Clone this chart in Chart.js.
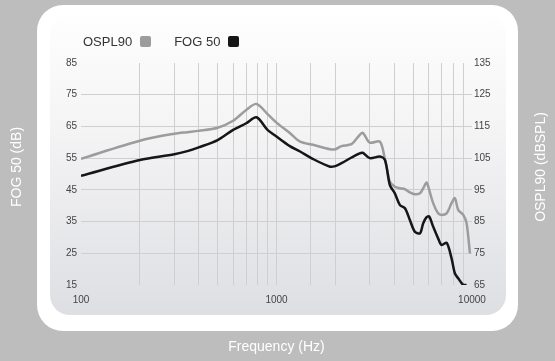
<!DOCTYPE html>
<html>
<head>
<meta charset="utf-8">
<script src="https://cdn.jsdelivr.net/npm/chart.js@4.4.1/dist/chart.umd.min.js"></script>
<style>
  body { margin: 0; background: #bdbdbd; font-family: Arial, "Liberation Sans", sans-serif; }
  #wrap { position: relative; width: 555px; height: 361px; overflow: hidden; }
  #card { position: absolute; left: 37px; top: 5px; width: 481px; height: 326px; background: #fff; border-radius: 26px; }
  #panel { position: absolute; left: 50px; top: 15px; width: 456px; height: 300px; border-radius: 20px;
           background: linear-gradient(#fefefe, #f5f5f6 35%, #dedfe3); }
  #fogChart { position: absolute; left: 0; top: 0; }
  #legend { position: absolute; left: 83px; top: 34px; font-size: 13px; line-height: 16px; color: #333; white-space: nowrap; }
  #legend span.item { display: inline-block; margin-right: 23px; }
  #legend span.box { display: inline-block; width: 11px; height: 11px; border-radius: 2px; margin-left: 8px; vertical-align: -1px; }
</style>
</head>
<body>
<div id="wrap">
  <div id="card"></div>
  <div id="panel"></div>
  <canvas id="fogChart" width="555" height="361"></canvas>
  <div id="legend"></div>
</div>
<script>
// Frequencies (Hz).
const frequencies = [100, 200, 300, 350, 400, 500, 600, 700, 790, 900, 1000, 1170, 1320, 1540, 1880, 2000,
  2150, 2420, 2620, 2760, 3000, 3380, 3590, 3800, 4030, 4280, 4540, 4810, 5100, 5420, 5630, 5860, 6040,
  6330, 6710, 6990, 7420, 7860, 8170, 8500, 9020, 9380, 9760];

// OSPL90 in dB SPL (right axis).
const osplValues = [104.8, 110.5, 112.7, 113.2, 113.6, 114.6, 116.8, 120.2, 122.1, 118.9, 116.2, 112.9, 110.2,
  109.2, 107.8, 107.8, 108.8, 109.4, 111.8, 113.0, 109.9, 110.2, 104.5, 97.6, 96.0, 95.5, 95.2, 94.2, 93.6,
  93.9, 95.5, 97.3, 95.0, 90.8, 87.6, 87.1, 87.6, 90.8, 92.4, 88.7, 87.1, 84.5, 75.0];

// FOG 50 in dB (left axis).
const fogValues = [49.4, 54.4, 56.2, 57.2, 58.4, 60.7, 63.9, 66.0, 67.9, 63.9, 61.8, 58.8, 57.1, 54.7, 52.3,
  52.5, 53.4, 55.2, 56.3, 56.7, 55.0, 55.5, 54.4, 46.5, 43.9, 40.2, 39.2, 35.5, 31.8, 31.3, 34.5, 36.4, 36.6,
  33.4, 29.7, 27.6, 28.3, 23.4, 18.7, 17.1, 15.0, 15.0, null];

const xTickLabels = [100, 1000, 10000];
const seriesNames = ['OSPL90', 'FOG 50'];
const seriesColours = ['#9c9c9c', '#161616'];

const xTitle = 'Frequency (Hz)';
const leftTitle = 'FOG 50 (dB)';
const rightTitle = 'OSPL90 (dBSPL)';

const gridColour = '#cfcfcf';
const tickFont = { family: 'Arial', size: 10 };

function toPoints(values) {
  let pts = [];
  for (let i = 0; i < frequencies.length; i++) {
    if (values[i] !== null) pts.push({ x: frequencies[i], y: values[i] });
  }
  return pts;
}

// Rotated side titles, both reading bottom to top.
const sideTitles = {
  id: 'sideTitles',
  afterDraw(chart) {
    const ctx = chart.ctx;
    ctx.save();
    ctx.fillStyle = '#ffffff';
    ctx.font = '14px Arial';
    ctx.textAlign = 'center';
    ctx.textBaseline = 'middle';
    [[17, 167, leftTitle], [541.5, 167, rightTitle]].forEach(function (t) {
      ctx.save();
      ctx.translate(t[0], t[1]);
      ctx.rotate(-Math.PI / 2);
      ctx.fillText(t[2], 0, 0);
      ctx.restore();
    });
    ctx.restore();
  }
};

let config = {
  type: 'line',
  data: {
    datasets: [{
      label: seriesNames[0],
      data: toPoints(osplValues),
      yAxisID: 'y1',
      borderColor: seriesColours[0],
      borderWidth: 2.5,
      pointRadius: 0,
      tension: 0.3,
      order: 1
    }, {
      label: seriesNames[1],
      data: toPoints(fogValues),
      yAxisID: 'y',
      borderColor: seriesColours[1],
      borderWidth: 2.5,
      pointRadius: 0,
      tension: 0.3,
      order: 0
    }]
  },
  options: {
    responsive: false,
    animation: false,
    devicePixelRatio: 1,
    layout: { padding: { top: 63, left: 0, right: 0, bottom: 0 } },
    plugins: { legend: { display: false }, tooltip: { enabled: false } },
    scales: {
      x: {
        type: 'logarithmic',
        min: 100,
        max: 10000,
        afterFit: function (s) { s.height = 76; },
        border: { display: false },
        grid: {
          drawTicks: false,
          color: function (c) {
            return (c.tick && (c.tick.value === 100 || c.tick.value === 10000)) ? 'rgba(0,0,0,0)' : gridColour;
          }
        },
        ticks: {
          autoSkip: false,
          maxRotation: 0,
          padding: 9,
          color: '#444',
          font: tickFont,
          callback: function (v) { return xTickLabels.indexOf(v) >= 0 ? String(v) : ''; }
        },
        title: {
          display: true,
          text: xTitle,
          color: '#ffffff',
          font: { family: 'Arial', size: 14 },
          padding: { top: 0, bottom: 5 }
        }
      },
      y: {
        position: 'left',
        min: 15,
        max: 85,
        afterFit: function (s) { s.width = 81; },
        border: { display: false },
        grid: {
          drawTicks: false,
          color: function (c) {
            return (c.tick && (c.tick.value === 15 || c.tick.value === 85)) ? 'rgba(0,0,0,0)' : gridColour;
          }
        },
        ticks: { stepSize: 10, padding: 4, color: '#444', font: tickFont }
      },
      y1: {
        position: 'right',
        min: 65,
        max: 135,
        afterFit: function (s) { s.width = 83; },
        border: { display: false },
        grid: { display: false, drawTicks: false },
        ticks: { stepSize: 10, padding: 2, color: '#444', font: tickFont }
      }
    }
  },
  plugins: [sideTitles]
};

let ctx = document.getElementById('fogChart').getContext('2d');
let fogChart = new Chart(ctx, config);

// Legend as HTML: name first, then the colour swatch.
let html = '';
fogChart.data.datasets.forEach(function (ds) {
  html += '<span class="item">' + ds.label + '<span class="box" style="background:' + ds.borderColor + '"></span></span>';
});
document.getElementById('legend').innerHTML = html;
</script>
</body>
</html>
